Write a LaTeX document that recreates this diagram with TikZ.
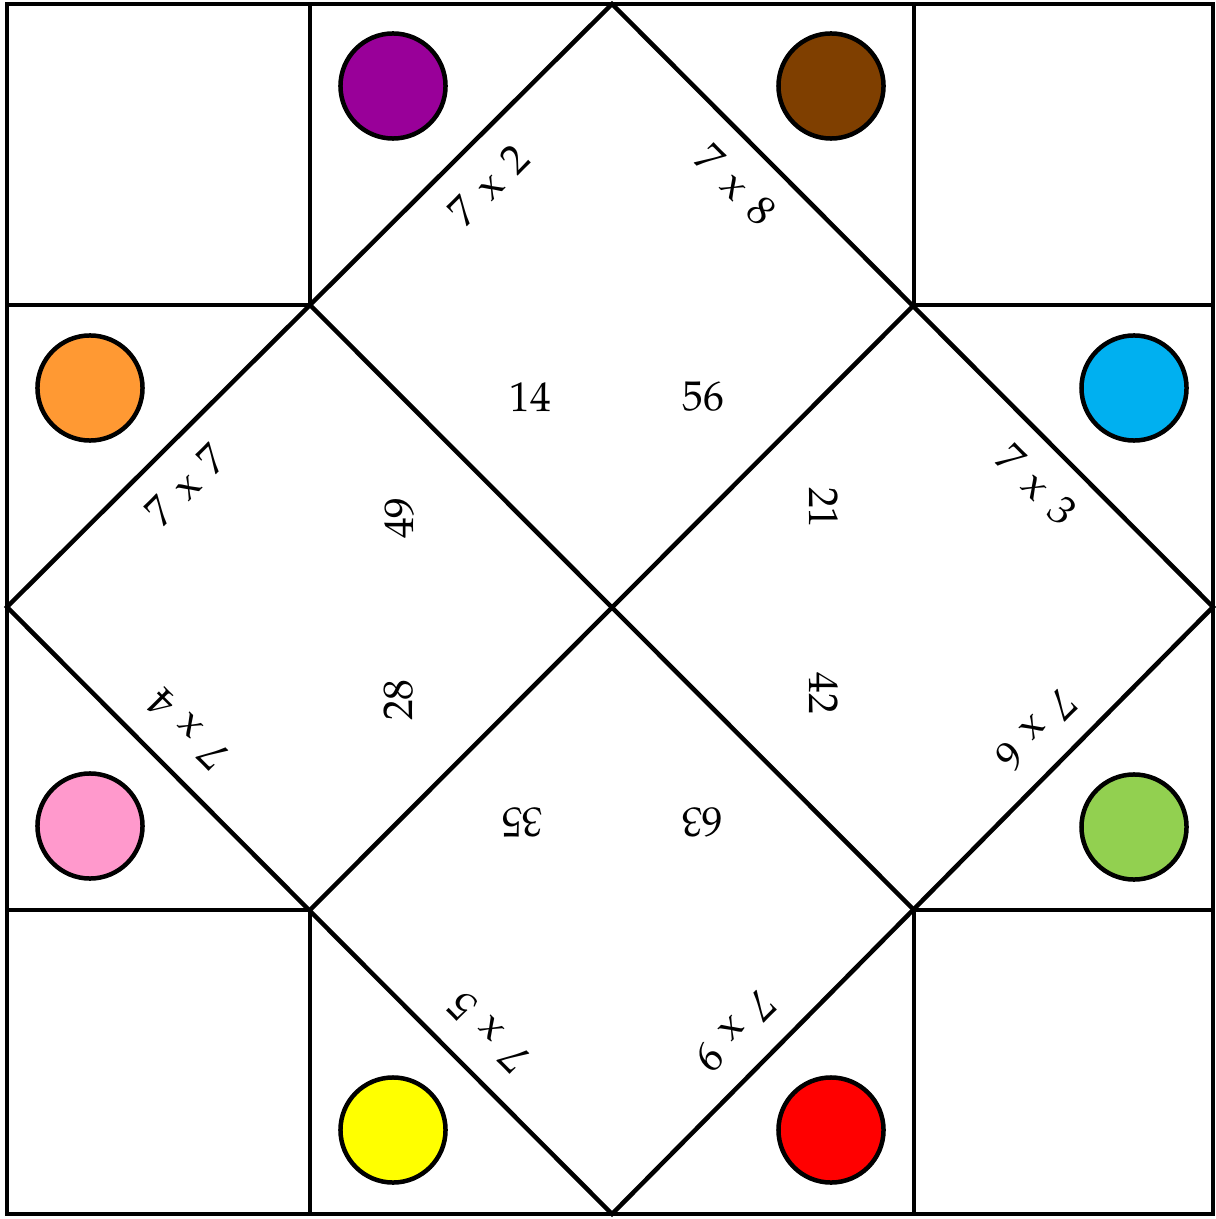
\documentclass[tikz,border=0pt]{standalone}
\usepackage[T1]{fontenc}
\renewcommand\rmdefault{ppl}
\definecolor{cpurple}{HTML}{990099}
\definecolor{cbrown}{HTML}{7F3F00}
\definecolor{corange}{HTML}{FF9933}
\definecolor{ccyan}{HTML}{00B0F0}
\definecolor{cpink}{HTML}{FF99CC}
\definecolor{cgreen}{HTML}{92D050}
\definecolor{cyellow}{HTML}{FFFF00}
\definecolor{cred}{HTML}{FF0000}
\newcommand{\tms}[1]{7\hspace{0.38em}x\hspace{0.38em}#1}
\begin{document}
\begin{tikzpicture}[x=0.01cm,y=-0.01cm, line width=0.045cm, line join=miter,
  lbl/.style={font=\fontsize{11.8}{13}\selectfont, inner sep=0pt},
  dot/.style={circle, draw=black, line width=0.045cm, minimum size=1.05cm, inner sep=0pt}]
\useasboundingbox (0,0) rectangle (1215,1219);
% outer square
\draw (7,4) rectangle (1213,1214);
% grid lines
\draw (310,4) -- (310,305);
\draw (914,4) -- (914,305);
\draw (310,910) -- (310,1214);
\draw (914,910) -- (914,1214);
\draw (7,305) -- (310,305);
\draw (914,305) -- (1213,305);
\draw (7,910) -- (310,910);
\draw (914,910) -- (1213,910);
% diamond
\draw (612,4) -- (1213,607) -- (612,1214) -- (7,607) -- cycle;
\draw (310,305) -- (914,910);
\draw (914,305) -- (310,910);
% circles
\node[dot, fill=cpurple] (cpu) at (393,86) {};
\node[dot, fill=cbrown] (cbr) at (831,86) {};
\node[dot, fill=corange] (cor) at (90,388) {};
\node[dot, fill=ccyan] (ccy) at (1134,388) {};
\node[dot, fill=cpink] (cpi) at (90,826) {};
\node[dot, fill=cgreen] (cgr) at (1134,827) {};
\node[dot, fill=cyellow] (cye) at (393,1130) {};
\node[dot, fill=cred] (cre) at (831,1130) {};
% outer labels
\node[lbl, rotate=45] (t2) at (489,185) {\tms{2}};
\node[lbl, rotate=-45] (t8) at (736,185) {\tms{8}};
\node[lbl, rotate=45] (t7) at (186,485) {\tms{7}};
\node[lbl, rotate=-45] (t3) at (1037,485) {\tms{3}};
\node[lbl, rotate=135] (t4) at (187,729) {\tms{4}};
\node[lbl, rotate=-135] (t6) at (1036,731) {\tms{6}};
\node[lbl, rotate=135] (t5) at (488,1032) {\tms{5}};
\node[lbl, rotate=-135] (t9) at (735,1032) {\tms{9}};
% inner numbers
\node[lbl] (n14) at (530,397) {14};
\node[lbl] (n56) at (703,397) {56};
\node[lbl, rotate=90] (n49) at (400,518) {49};
\node[lbl, rotate=90] (n28) at (399,700) {28};
\node[lbl, rotate=-90] (n21) at (824,508) {21};
\node[lbl, rotate=-90] (n42) at (824,693) {42};
\node[lbl, rotate=180] (n35) at (522,822) {35};
\node[lbl, rotate=180] (n63) at (702,822) {63};
\end{tikzpicture}
\end{document}
